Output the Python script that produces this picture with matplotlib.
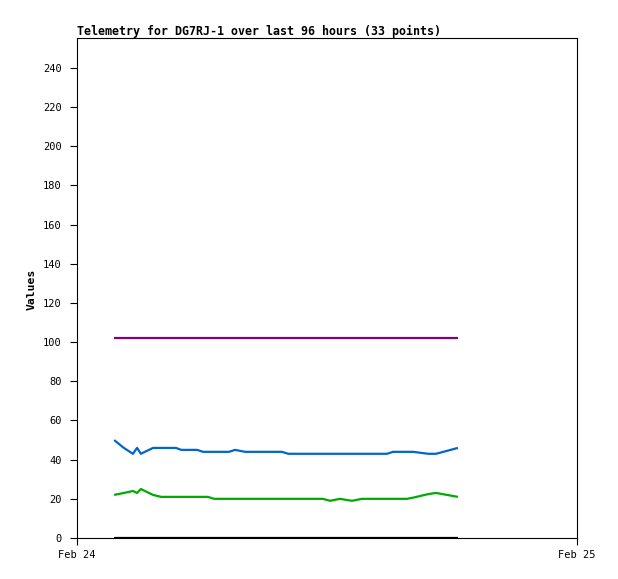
import matplotlib
matplotlib.use("Agg")
import matplotlib.pyplot as plt

# Sample times on Feb 24 (HH:MM)
times = ["01:47", "02:15", "02:41", "02:53", "03:04", "03:39", "04:02", "04:28",
         "04:45", "05:00", "05:46", "06:03", "06:17", "06:35", "07:18", "07:35",
         "08:04", "08:47", "09:50", "10:08", "10:57", "11:48", "12:09", "12:37",
         "13:12", "13:41", "14:53", "15:10", "15:50", "16:08", "16:51", "17:14",
         "18:17"]

series_blue = [50, 46, 43, 46, 43, 46, 46, 46, 46, 45, 45, 44, 44, 44, 44, 45,
               44, 44, 44, 43, 43, 43, 43, 43, 43, 43, 43, 44, 44, 44, 43, 43, 46]
series_green = [22, 23, 24, 23, 25, 22, 21, 21, 21, 21, 21, 21, 21, 20, 20, 20,
                20, 20, 20, 20, 20, 20, 19, 20, 19, 20, 20, 20, 20, 20.6, 22.4, 23, 21]
series_purple = [102] * 33
series_black = [0] * 33

x_tick_labels = ["Feb 24", "Feb 25"]
y_ticks = [0, 20, 40, 60, 80, 100, 120, 140, 160, 180, 200, 220, 240]

title = "Telemetry for DG7RJ-1 over last 96 hours (33 points)"

hours = [int(t[:2]) + int(t[3:]) / 60 for t in times]

W, H = 618, 579
fig = plt.figure(figsize=(W / 100, H / 100), dpi=100)
ax = fig.add_axes([77 / W, (H - 538) / H, 500 / W, 500 / H])

mono = "DejaVu Sans Mono"
ax.plot(hours, series_black, color="#000000", lw=1.6, solid_capstyle="butt")
ax.plot(hours, series_purple, color="#800080", lw=1.6, solid_capstyle="butt")
ax.plot(hours, series_blue, color="#0066cc", lw=1.6, solid_capstyle="butt")
ax.plot(hours, series_green, color="#00aa00", lw=1.6, solid_capstyle="butt")

ax.set_xlim(0, 24)
ax.set_ylim(0, 255.3)
ax.set_xticks([0, 24])
ax.set_xticklabels(x_tick_labels, family=mono, fontsize=7.5)
ax.set_yticks(y_ticks)
ax.set_yticklabels([str(v) for v in y_ticks], family=mono, fontsize=7.5)
ax.tick_params(direction="out", length=5, width=0.8, pad=6, colors="black")
ax.tick_params(axis="x", pad=4)
for s in ax.spines.values():
    s.set_linewidth(0.8)
    s.set_color("black")

ax.set_title(title, loc="left", family=mono, fontweight="bold", fontsize=8.4, pad=2)
fig.text(32 / W, 1 - 289 / H, "Values", rotation=90, family=mono, fontweight="bold",
         fontsize=8.2, ha="center", va="center")

fig.savefig("out.png", dpi=100, facecolor="white")
